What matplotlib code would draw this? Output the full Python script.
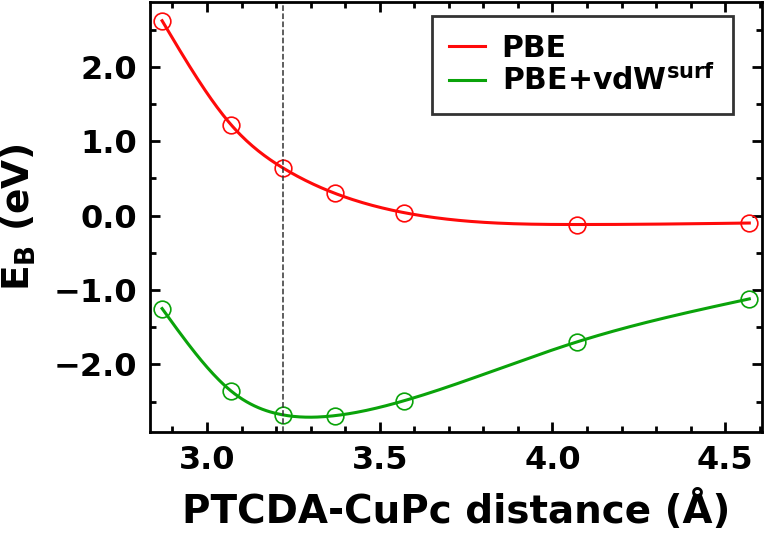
import matplotlib
matplotlib.use('Agg')
import matplotlib.pyplot as plt
import numpy as np

distance = [2.87, 3.07, 3.22, 3.37, 3.57, 4.07, 4.57]
e_pbe = [2.62, 1.22, 0.64, 0.30, 0.04, -0.12, -0.10]
e_vdw = [-1.25, -2.36, -2.68, -2.69, -2.49, -1.70, -1.12]
d_eq = 3.22


def natural_spline(x, y, xs):
    # plain natural cubic spline, no scipy here
    x = np.asarray(x, float)
    y = np.asarray(y, float)
    n = len(x)
    h = np.diff(x)
    A = np.zeros((n, n))
    b = np.zeros(n)
    A[0, 0] = 1
    A[-1, -1] = 1
    for i in range(1, n - 1):
        A[i, i - 1] = h[i - 1]
        A[i, i] = 2 * (h[i - 1] + h[i])
        A[i, i + 1] = h[i]
        b[i] = 6 * ((y[i + 1] - y[i]) / h[i] - (y[i] - y[i - 1]) / h[i - 1])
    M = np.linalg.solve(A, b)
    idx = np.clip(np.searchsorted(x, xs) - 1, 0, n - 2)
    x0, x1 = x[idx], x[idx + 1]
    hh = x1 - x0
    t0 = x1 - xs
    t1 = xs - x0
    ys = (M[idx] * t0 ** 3 + M[idx + 1] * t1 ** 3) / (6 * hh) \
        + (y[idx] / hh - M[idx] * hh / 6) * t0 \
        + (y[idx + 1] / hh - M[idx + 1] * hh / 6) * t1
    return ys


plt.rcParams['font.family'] = 'DejaVu Sans'
plt.rcParams['font.weight'] = 'bold'
plt.rcParams['mathtext.default'] = 'bf'

red = '#ff0a0a'
green = '#0aa30a'

fig = plt.figure(figsize=(7.67, 5.36), dpi=100)
ax = fig.add_axes([0.1956, 0.194, 0.798, 0.802])

xs = np.linspace(distance[0], distance[-1], 300)
ax.plot(xs, natural_spline(distance, e_pbe, xs), color=red, lw=2.2, label='PBE')
ax.plot(xs, natural_spline(distance, e_vdw, xs), color=green, lw=2.2,
        label=r'PBE+vdW$^{\mathbf{surf}}$')
ax.plot(distance, e_pbe, 'o', mfc='none', mec=red, ms=12, mew=1.2)
ax.plot(distance, e_vdw, 'o', mfc='none', mec=green, ms=12, mew=1.2)
ax.axvline(d_eq, color='#333333', ls='--', lw=1.1)

ax.set_xlim(2.835, 4.607)
ax.set_ylim(-2.91, 2.87)
ax.set_xticks([3.0, 3.5, 4.0, 4.5])
ax.set_xticks(np.arange(2.9, 4.61, 0.1), minor=True)
ax.set_yticks([-2.0, -1.0, 0.0, 1.0, 2.0])
ax.set_yticks(np.arange(-2.5, 2.9, 0.5), minor=True)
ax.set_xticklabels(['3.0', '3.5', '4.0', '4.5'])
ax.set_yticklabels(['\u22122.0', '\u22121.0', '0.0', '1.0', '2.0'])
ax.tick_params(which='both', direction='in', top=True, right=True, width=2)
ax.tick_params(which='major', length=7, labelsize=23, pad=9)
ax.tick_params(which='minor', length=4)
for s in ax.spines.values():
    s.set_linewidth(2)

ax.set_xlabel('PTCDA-CuPc distance (\u00c5)', fontsize=28, fontweight='bold')
ax.set_ylabel(r'E$_{\mathbf{B}}$ (eV)', fontsize=27, fontweight='bold')
ax.xaxis.set_label_coords(0.5, -0.135)
ax.yaxis.set_label_coords(-0.183, 0.5)

leg = ax.legend(loc='upper right', bbox_to_anchor=(0.952, 0.968), fontsize=21.5,
                frameon=True, fancybox=False, edgecolor='black',
                handlelength=1.2, handletextpad=0.55, borderpad=0.6,
                labelspacing=0.05, borderaxespad=0)
leg.get_frame().set_linewidth(2)

fig.savefig('out.png', dpi=100)
